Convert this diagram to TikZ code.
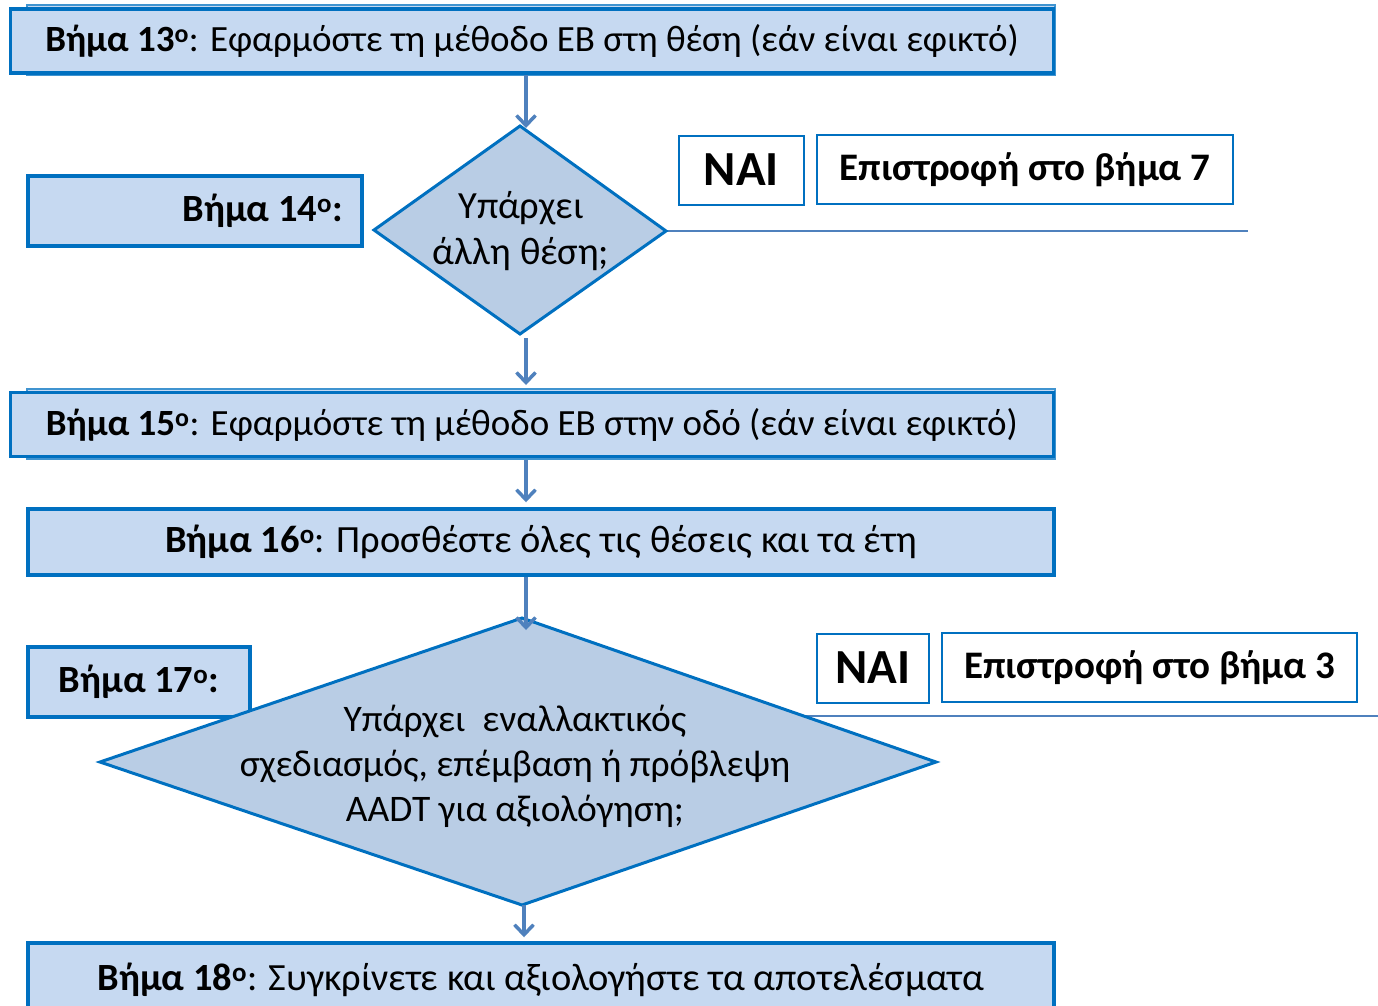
\documentclass[tikz,border=0pt]{standalone}
\usepackage{fontspec}
\setmainfont{Carlito}
\usetikzlibrary{arrows.meta}
\definecolor{bfill}{HTML}{C6D9F1}
\definecolor{dfill}{HTML}{B9CDE5}
\definecolor{bord}{HTML}{0070C0}
\definecolor{arrc}{HTML}{4F81BD}
\begin{document}
\begin{tikzpicture}[x=1pt,y=-1pt,
 box/.style={draw=bord, fill=bfill, line width=3.5pt, inner sep=0pt, font=\fontsize{38.5}{44}\selectfont},
 backbox/.style={draw=bord!75, fill=bfill, line width=2pt, inner sep=0pt},
 wbox/.style={draw=bord, fill=white, line width=2pt, inner sep=0pt},
 dia/.style={draw=bord, fill=dfill, line width=3pt, line join=miter},
 arr/.style={draw=arrc, line width=3.5pt, -{Straight Barb[length=10pt,width=19pt]}},
 yline/.style={draw=arrc, line width=1.8pt},
 txt/.style={font=\fontsize{38.5}{46}\selectfont, inner sep=0pt},
]
\useasboundingbox (0,0) rectangle (1378,1005);
\coordinate (ax) at (526,0);

% Step 13
\node[backbox, minimum width=1028pt, minimum height=70pt] (b13s) at (541,40) {};
\node[box, minimum width=1043pt, minimum height=64pt, font=\fontsize{37}{44}\selectfont] (b13) at (532,41)
  {\textbf{Βήμα 13\textsuperscript{ο}}: Εφαρμόστε τη μέθοδο ΕΒ στη θέση (εάν είναι εφικτό)};

% Step 14
\node[box, minimum width=334pt, minimum height=70pt] (b14) at (195,211) {};
\node[txt, anchor=east] (b14t) at (343,211) {\textbf{Βήμα 14\textsuperscript{ο}:}};
\coordinate (d14t) at (520,126);
\coordinate (d14r) at (666,231);
\coordinate (d14b) at (520,334);
\coordinate (d14l) at (374,230);
\coordinate (l14e) at (1248,231);
\draw[yline] (d14r) -- (l14e);
\path[dia] (d14t) -- (d14r) -- (d14b) -- (d14l) -- cycle;
\node[txt, align=center] (d14txt) at (521,231) {Υπάρχει\\άλλη θέση;};
\node[wbox, minimum width=125pt, minimum height=69pt, font=\fontsize{49}{54}\selectfont\bfseries] (nai1) at (741.5,170) {ΝΑΙ};
\node[wbox, minimum width=416pt, minimum height=69pt, font=\fontsize{39}{44}\selectfont\bfseries] (ret7) at (1025,169.5) {Επιστροφή στο βήμα 7};

% Step 15
\node[backbox, minimum width=1028pt, minimum height=70pt] (b15s) at (541,424) {};
\node[box, minimum width=1043pt, minimum height=64pt, font=\fontsize{37}{44}\selectfont] (b15) at (532,424.5)
  {\textbf{Βήμα 15\textsuperscript{ο}}: Εφαρμόστε τη μέθοδο ΕΒ στην οδό (εάν είναι εφικτό)};

% Step 16
\node[box, minimum width=1026pt, minimum height=66pt] (b16) at (541,542)
  {\textbf{Βήμα 16\textsuperscript{ο}}: Προσθέστε όλες τις θέσεις και τα έτη};

% Step 17
\node[box, minimum width=222pt, minimum height=70pt] (b17) at (139,682) {\textbf{Βήμα 17\textsuperscript{ο}:}};
\coordinate (l17s) at (760,716);
\coordinate (l17e) at (1378,716);
\draw[yline] (l17s) -- (l17e);
\coordinate (d17t) at (522,618);
\coordinate (d17r) at (936,762);
\coordinate (d17b) at (522,905);
\coordinate (d17l) at (100,762);
\path[dia] (d17t) -- (d17r) -- (d17b) -- (d17l) -- cycle;
\node[txt, align=center, font=\fontsize{37.5}{45}\selectfont] (d17txt) at (515,766) {Υπάρχει\ \ εναλλακτικός\\σχεδιασμός, επέμβαση ή πρόβλεψη\\AADT για αξιολόγηση;};
\node[wbox, minimum width=112pt, minimum height=69pt, font=\fontsize{49}{54}\selectfont\bfseries] (nai2) at (873,668) {ΝΑΙ};
\node[wbox, minimum width=415pt, minimum height=69pt, font=\fontsize{39}{44}\selectfont\bfseries] (ret3) at (1149.5,667.5) {Επιστροφή στο βήμα 3};

% Step 18
\node[box, minimum width=1026pt, minimum height=70pt, text depth=2pt] (b18) at (541,978)
  {\textbf{Βήμα 18\textsuperscript{ο}}: Συγκρίνετε και αξιολογήστε τα αποτελέσματα};

% arrows
\draw[arr] (b13.south -| ax) -- ([yshift=-2pt]d14t -| ax);
\draw[arr] ([yshift=-4pt]d14b -| ax) -- ([yshift=3pt]b15s.north -| ax);
\draw[arr] (b15s.south -| ax) -- ([yshift=5pt]b16.north -| ax);
\draw[arr] (b16.south -| ax) -- ([yshift=-12pt]d17t -| ax);
\draw[arr] (d17b -| 524,0) -- ([yshift=4pt]b18.north -| 524,0);
\end{tikzpicture}
\end{document}
